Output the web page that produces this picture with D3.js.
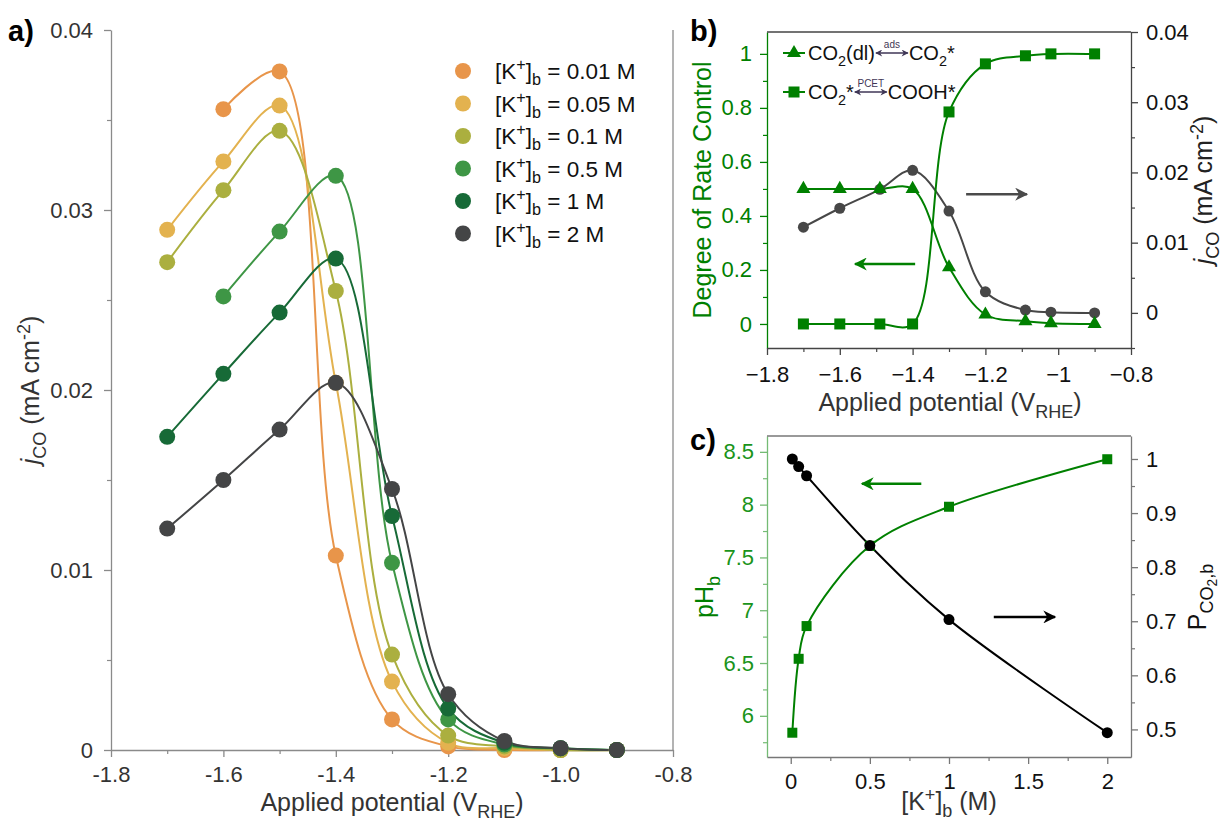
<!DOCTYPE html>
<html lang="en">
<head>
<meta charset="utf-8">
<style>
  body { margin: 0; background: #fff; }
  svg { display: block; font-family: "Liberation Sans", Arial, sans-serif; }
</style>
</head>
<body>
<svg id="chart" width="1223" height="823"></svg>
<script src="https://d3js.org/d3.v7.min.js"></script>
<script>
// ---------- data ----------
// panel a: j_CO vs potential for each bulk K+ concentration
var potentials = [-1.7, -1.6, -1.5, -1.4, -1.3, -1.2, -1.1, -1.0, -0.9];
var concLabels = ["0.01", "0.05", "0.1", "0.5", "1", "2"];
var j001 = [null, 0.0356, 0.0377, 0.0108, 0.0017, 0.0002, 0.0000, 0.0000, 0.0000];
var j005 = [0.0289, 0.0327, 0.0358, 0.0204, 0.0038, 0.0004, 0.0001, 0.0000, 0.0000];
var j01  = [0.0271, 0.0311, 0.0344, 0.0255, 0.0053, 0.0008, 0.0002, 0.0000, 0.0000];
var j05  = [null, 0.0252, 0.0288, 0.0319, 0.0104, 0.0017, 0.0003, 0.0001, 0.0000];
var j1   = [0.0174, 0.0209, 0.0243, 0.0273, 0.0130, 0.0023, 0.0004, 0.0001, 0.0000];
var j2   = [0.0123, 0.0150, 0.0178, 0.0204, 0.0145, 0.0031, 0.0005, 0.0001, 0.0000];
var aXTicks = [-1.8, -1.6, -1.4, -1.2, -1.0, -0.8];
var aXTickLabels = ["-1.8", "-1.6", "-1.4", "-1.2", "-1.0", "-0.8"];
var aYTicks = [0, 0.01, 0.02, 0.03, 0.04];
var aYTickLabels = ["0", "0.01", "0.02", "0.03", "0.04"];

// panel b: degree of rate control + j_CO at 2 M
var drcPot  = [-1.7, -1.6, -1.49, -1.4, -1.3, -1.2, -1.09, -1.02, -0.9];
var drcAds  = [0.50, 0.50, 0.50, 0.50, 0.21, 0.035, 0.010, 0.003, 0.0];
var drcPcet = [0.0, 0.0, 0.0, 0.0, 0.785, 0.963, 0.993, 1.0, 1.0];
var jcoB    = [0.0122, 0.0149, 0.0176, 0.0203, 0.0145, 0.0030, 0.0004, 0.0001, 0.0000];
var bXTicks = [-1.8, -1.6, -1.4, -1.2, -1.0, -0.8];
var bXTickLabels = ["\u22121.8", "\u22121.6", "\u22121.4", "\u22121.2", "\u22121", "\u22120.8"];
var bYLTicks = [0, 0.2, 0.4, 0.6, 0.8, 1];
var bYLTickLabels = ["0", "0.2", "0.4", "0.6", "0.8", "1"];
var bYRTicks = [0, 0.01, 0.02, 0.03, 0.04];
var bYRTickLabels = ["0", "0.01", "0.02", "0.03", "0.04"];

// panel c: bulk pH and CO2 partial pressure vs [K+]
var kConc = [0.01, 0.05, 0.1, 0.5, 1, 2];
var pHb   = [5.84, 6.54, 6.85, 7.61, 7.98, 8.43];
var pCO2  = [1.0, 0.986, 0.969, 0.840, 0.703, 0.494];
var cXTicks = [0, 0.5, 1, 1.5, 2];
var cXTickLabels = ["0", "0.5", "1", "1.5", "2"];
var cYLTicks = [6, 6.5, 7, 7.5, 8, 8.5];
var cYLTickLabels = ["6", "6.5", "7", "7.5", "8", "8.5"];
var cYRTicks = [0.5, 0.6, 0.7, 0.8, 0.9, 1];
var cYRTickLabels = ["0.5", "0.6", "0.7", "0.8", "0.9", "1"];

var aSeries = [j001, j005, j01, j05, j1, j2];
var aColors = ["#e8954a", "#e3b24f", "#abaf3f", "#3e9645", "#176a37", "#444546"];
var green = "#008000";
var darkGray = "#444";
var tickFs = 22, titleFs = 25;

var svg = d3.select("#chart");
svg.append("rect").attr("width", 1223).attr("height", 823).attr("fill", "#fff");

// ---------- helpers ----------
function rich(text, parts, fs) {
  var cur = 0;
  parts.forEach(function(p) {
    var t = Array.isArray(p) ? p[0] : p;
    var k = Array.isArray(p) ? p[1] : "";
    var off = ({sub: 0.28, sup: -0.38, subsub: 0.42})[k] || 0;
    var ts = text.append("tspan").text(t).attr("dy", (off - cur) * fs);
    if (k === "sub" || k === "sup") ts.attr("font-size", fs * 0.72);
    if (k === "subsub") ts.attr("font-size", fs * 0.55);
    if (k === "it") ts.attr("font-style", "italic");
    cur = off;
  });
  return text;
}

function axis(gen, tr, lineColor, textColor, fs) {
  var a = svg.append("g").attr("transform", tr).call(gen)
    .attr("font-family", null).attr("font-size", fs);
  a.select(".domain").attr("stroke", lineColor).attr("stroke-width", 1.3);
  a.selectAll(".tick line").attr("stroke", lineColor).attr("stroke-width", 1.3);
  a.selectAll(".tick text").attr("fill", textColor);
  return a;
}
function minor(gen, tr, lineColor) {
  var a = svg.append("g").attr("transform", tr).call(gen.tickFormat(""));
  a.select(".domain").remove();
  a.selectAll(".tick line").attr("stroke", lineColor).attr("stroke-width", 1.2);
}
function labelFmt(ticks, labels) {
  return function(d) { return labels[ticks.indexOf(d)]; };
}

var defs = svg.append("defs");
function arrowMarker(id, color, w, h) {
  defs.append("marker").attr("id", id)
    .attr("viewBox", "0 0 10 10").attr("refX", 9).attr("refY", 5)
    .attr("markerUnits", "userSpaceOnUse")
    .attr("markerWidth", w).attr("markerHeight", h)
    .attr("orient", "auto-start-reverse")
    .append("path").attr("d", "M0,0 L10,5 L0,10 L3,5 Z").attr("fill", color);
}
arrowMarker("arrGray", "#4a4a4a", 18, 13);
arrowMarker("arrGreen", green, 18, 13);
arrowMarker("arrBlack", "#000", 18, 13);
arrowMarker("arrSmall", "#3f3656", 9, 7);

var spline = d3.curveCatmullRom.alpha(0.5);

// ================= panel a =================
var ax = d3.scaleLinear().domain([-1.8, -0.8]).range([111, 673]);
var ay = d3.scaleLinear().domain([0, 0.04]).range([750, 30]);
var aAxisCol = "#8a8a8a", aTextCol = "#333";

minor(d3.axisLeft(ay).tickValues([0.005, 0.015, 0.025, 0.035]).tickSize(4), "translate(111,0)", aAxisCol);
minor(d3.axisBottom(ax).tickValues([-1.7, -1.5, -1.3, -1.1, -0.9]).tickSize(4), "translate(0,750)", aAxisCol);
axis(d3.axisLeft(ay).tickValues(aYTicks).tickFormat(labelFmt(aYTicks, aYTickLabels))
  .tickSize(7).tickSizeOuter(0).tickPadding(11), "translate(111,0)", aAxisCol, aTextCol, tickFs);
axis(d3.axisBottom(ax).tickValues(aXTicks).tickFormat(labelFmt(aXTicks, aXTickLabels))
  .tickSize(7).tickSizeOuter(0).tickPadding(9), "translate(0,750)", aAxisCol, aTextCol, tickFs);
svg.append("line").attr("x1", ax(-0.8)).attr("x2", ax(-0.8)).attr("y1", ay(0.04)).attr("y2", ay(0))
  .attr("stroke", aAxisCol).attr("stroke-width", 1.3);

var aPts = aSeries.map(function(s) {
  return potentials.map(function(p, i) { return {x: p, y: s[i]}; })
    .filter(function(d) { return d.y !== null; });
});
var aLine = d3.line().x(function(d) { return ax(d.x); }).y(function(d) { return ay(d.y); }).curve(spline);
aPts.forEach(function(pts, k) {
  svg.append("path").datum(pts).attr("d", aLine).attr("fill", "none")
    .attr("stroke", aColors[k]).attr("stroke-width", 2);
});
aPts.forEach(function(pts, k) {
  svg.append("g").selectAll("circle").data(pts).enter().append("circle")
    .attr("cx", function(d) { return ax(d.x); }).attr("cy", function(d) { return ay(d.y); })
    .attr("r", 8).attr("fill", aColors[k]);
});

// legend
concLabels.forEach(function(c, k) {
  var y = 71 + k * 32.5;
  svg.append("circle").attr("cx", 463).attr("cy", y).attr("r", 8).attr("fill", aColors[k]);
  rich(svg.append("text").attr("x", 495).attr("y", y + 8).attr("font-size", 22.5).attr("fill", "#111"),
    ["[K", ["+", "sup"], "]", ["b", "sub"], " = " + c + " M"], 22.5);
});

rich(svg.append("text").attr("x", 392).attr("y", 811).attr("text-anchor", "middle")
  .attr("font-size", titleFs).attr("fill", "#333"), ["Applied potential (V", ["RHE", "sub"], ")"], titleFs);
rich(svg.append("text").attr("transform", "translate(39,390) rotate(-90)").attr("text-anchor", "middle")
  .attr("font-size", titleFs).attr("fill", "#333"), [["j", "it"], ["CO", "sub"], " (mA cm", ["-2", "sup"], ")"], titleFs);
svg.append("text").attr("x", 8).attr("y", 41).attr("font-size", 29).attr("font-weight", "bold").text("a)");

// ================= panel b =================
var bx = d3.scaleLinear().domain([-1.8, -0.8]).range([767, 1131]);
var byL = d3.scaleLinear().domain([-0.089, 1.081]).range([348, 32]);
var byR = d3.scaleLinear().domain([-0.005, 0.04]).range([348, 32]);

minor(d3.axisLeft(byL).tickValues([0.1, 0.3, 0.5, 0.7, 0.9]).tickSize(4), "translate(767,0)", green);
minor(d3.axisRight(byR).tickValues([-0.005, 0.005, 0.015, 0.025, 0.035]).tickSize(4), "translate(1131,0)", darkGray);
minor(d3.axisBottom(bx).tickValues([-1.7, -1.5, -1.3, -1.1, -0.9]).tickSize(4), "translate(0,348)", darkGray);
axis(d3.axisLeft(byL).tickValues(bYLTicks).tickFormat(labelFmt(bYLTicks, bYLTickLabels))
  .tickSize(7).tickSizeOuter(0).tickPadding(8), "translate(767,0)", green, green, tickFs);
axis(d3.axisRight(byR).tickValues(bYRTicks).tickFormat(labelFmt(bYRTicks, bYRTickLabels))
  .tickSize(7).tickSizeOuter(0).tickPadding(8), "translate(1131,0)", darkGray, "#111", tickFs);
axis(d3.axisBottom(bx).tickValues(bXTicks).tickFormat(labelFmt(bXTicks, bXTickLabels))
  .tickSize(7).tickSizeOuter(0).tickPadding(11), "translate(0,348)", darkGray, "#111", tickFs);
svg.append("line").attr("x1", 767).attr("x2", 1131).attr("y1", 32).attr("y2", 32)
  .attr("stroke", darkGray).attr("stroke-width", 1.3);

var bAds = drcPot.map(function(p, i) { return {x: p, y: drcAds[i]}; });
var bPcet = drcPot.map(function(p, i) { return {x: p, y: drcPcet[i]}; });
var bJ = drcPot.map(function(p, i) { return {x: p, y: jcoB[i]}; });
var bLineL = d3.line().x(function(d) { return bx(d.x); }).y(function(d) { return byL(d.y); }).curve(spline);
var bLineR = d3.line().x(function(d) { return bx(d.x); }).y(function(d) { return byR(d.y); }).curve(spline);

svg.append("path").datum(bJ).attr("d", bLineR).attr("fill", "none").attr("stroke", "#474747").attr("stroke-width", 2);
svg.append("path").datum(bAds).attr("d", bLineL).attr("fill", "none").attr("stroke", green).attr("stroke-width", 2);
svg.append("path").datum(bPcet).attr("d", bLineL).attr("fill", "none").attr("stroke", green).attr("stroke-width", 2);

svg.append("g").selectAll("circle").data(bJ).enter().append("circle")
  .attr("cx", function(d) { return bx(d.x); }).attr("cy", function(d) { return byR(d.y); })
  .attr("r", 5.5).attr("fill", "#474747");
var tri = d3.symbol().type(d3.symbolTriangle).size(85);
svg.append("g").selectAll("path").data(bAds).enter().append("path")
  .attr("d", tri).attr("fill", green)
  .attr("transform", function(d) { return "translate(" + bx(d.x) + "," + byL(d.y) + ")"; });
svg.append("g").selectAll("rect").data(bPcet).enter().append("rect")
  .attr("x", function(d) { return bx(d.x) - 5.5; }).attr("y", function(d) { return byL(d.y) - 5.5; })
  .attr("width", 11).attr("height", 11).attr("fill", green);

// direction arrows
svg.append("line").attr("x1", bx(-1.253)).attr("x2", bx(-1.086)).attr("y1", byR(0.0169)).attr("y2", byR(0.0169))
  .attr("stroke", "#4a4a4a").attr("stroke-width", 2.5).attr("marker-end", "url(#arrGray)");
svg.append("line").attr("x1", bx(-1.393)).attr("x2", bx(-1.558)).attr("y1", byL(0.222)).attr("y2", byL(0.222))
  .attr("stroke", green).attr("stroke-width", 2.5).attr("marker-end", "url(#arrGreen)");

// legend b
function bLegendRow(y, sym, left, above, right) {
  svg.append("line").attr("x1", 783).attr("x2", 805).attr("y1", y).attr("y2", y)
    .attr("stroke", green).attr("stroke-width", 2);
  if (sym === "tri") {
    svg.append("path").attr("d", tri).attr("fill", green).attr("transform", "translate(794," + y + ")");
  } else {
    svg.append("rect").attr("x", 788.5).attr("y", y - 5.5).attr("width", 11).attr("height", 11).attr("fill", green);
  }
  var t1 = rich(svg.append("text").attr("x", 808).attr("y", y + 7).attr("font-size", 20).attr("fill", "#111"), left, 20);
  var w = t1.node().getComputedTextLength();
  var a0 = 808 + w + 1, a1 = a0 + 32;
  svg.append("line").attr("x1", a0).attr("x2", a1).attr("y1", y).attr("y2", y)
    .attr("stroke", "#3f3656").attr("stroke-width", 1.3)
    .attr("marker-start", "url(#arrSmall)").attr("marker-end", "url(#arrSmall)");
  svg.append("text").attr("x", (a0 + a1) / 2).attr("y", y - 5).attr("text-anchor", "middle")
    .attr("font-size", 10).attr("fill", "#3f3656").text(above);
  rich(svg.append("text").attr("x", a1 + 1).attr("y", y + 7).attr("font-size", 20).attr("fill", "#111"), right, 20);
}
bLegendRow(53, "tri", ["CO", ["2", "sub"], "(dl)"], "ads", ["CO", ["2", "sub"], "*"]);
bLegendRow(92, "sq", ["CO", ["2", "sub"], "*"], "PCET", ["COOH*"]);

rich(svg.append("text").attr("x", 950).attr("y", 411).attr("text-anchor", "middle")
  .attr("font-size", titleFs).attr("fill", "#333"), ["Applied potential (V", ["RHE", "sub"], ")"], titleFs);
svg.append("text").attr("transform", "translate(711,190) rotate(-90)").attr("text-anchor", "middle")
  .attr("font-size", titleFs).attr("fill", green).text("Degree of Rate Control");
rich(svg.append("text").attr("transform", "translate(1212,190) rotate(-90)").attr("text-anchor", "middle")
  .attr("font-size", titleFs).attr("fill", "#222"), [["j", "it"], ["CO", "sub"], " (mA cm", ["-2", "sup"], ")"], titleFs);
svg.append("text").attr("x", 690).attr("y", 41).attr("font-size", 29).attr("font-weight", "bold").text("b)");

// ================= panel c =================
var cx = d3.scaleLinear().domain([-0.15, 2.15]).range([767, 1131]);
var cyL = d3.scaleLinear().domain([5.61, 8.65]).range([757, 436]);
var cyR = d3.scaleLinear().domain([0.449, 1.0425]).range([757, 436]);
var cGreenAxis = "#74bb74", cGreenText = "#1a941a", cGray = "#777";

minor(d3.axisLeft(cyL).tickValues([5.75, 6.25, 6.75, 7.25, 7.75, 8.25]).tickSize(4), "translate(767,0)", cGreenAxis);
minor(d3.axisRight(cyR).tickValues([0.55, 0.65, 0.75, 0.85, 0.95]).tickSize(4), "translate(1131,0)", cGray);
minor(d3.axisBottom(cx).tickValues([0.25, 0.75, 1.25, 1.75]).tickSize(4), "translate(0,757)", cGray);
axis(d3.axisLeft(cyL).tickValues(cYLTicks).tickFormat(labelFmt(cYLTicks, cYLTickLabels))
  .tickSize(7).tickSizeOuter(0).tickPadding(6), "translate(767,0)", cGreenAxis, cGreenText, tickFs);
axis(d3.axisRight(cyR).tickValues(cYRTicks).tickFormat(labelFmt(cYRTicks, cYRTickLabels))
  .tickSize(7).tickSizeOuter(0).tickPadding(8), "translate(1131,0)", cGray, "#111", tickFs);
axis(d3.axisBottom(cx).tickValues(cXTicks).tickFormat(labelFmt(cXTicks, cXTickLabels))
  .tickSize(7).tickSizeOuter(0).tickPadding(9), "translate(0,757)", cGray, "#111", tickFs);
svg.append("line").attr("x1", 767).attr("x2", 1131).attr("y1", 436).attr("y2", 436)
  .attr("stroke", cGray).attr("stroke-width", 1.3);

var cPH = kConc.map(function(k, i) { return {x: k, y: pHb[i]}; });
var cP = kConc.map(function(k, i) { return {x: k, y: pCO2[i]}; });
svg.append("path").datum(cPH).attr("fill", "none").attr("stroke", green).attr("stroke-width", 2)
  .attr("d", d3.line().x(function(d) { return cx(d.x); }).y(function(d) { return cyL(d.y); }).curve(spline));
svg.append("path").datum(cP).attr("fill", "none").attr("stroke", "#000").attr("stroke-width", 2)
  .attr("d", d3.line().x(function(d) { return cx(d.x); }).y(function(d) { return cyR(d.y); }).curve(spline));
svg.append("g").selectAll("rect").data(cPH).enter().append("rect")
  .attr("x", function(d) { return cx(d.x) - 5; }).attr("y", function(d) { return cyL(d.y) - 5; })
  .attr("width", 10).attr("height", 10).attr("fill", green);
svg.append("g").selectAll("circle").data(cP).enter().append("circle")
  .attr("cx", function(d) { return cx(d.x); }).attr("cy", function(d) { return cyR(d.y); })
  .attr("r", 5.5).attr("fill", "#000");

svg.append("line").attr("x1", cx(0.825)).attr("x2", cx(0.45)).attr("y1", cyL(8.197)).attr("y2", cyL(8.197))
  .attr("stroke", green).attr("stroke-width", 2.5).attr("marker-end", "url(#arrGreen)");
svg.append("line").attr("x1", cx(1.283)).attr("x2", cx(1.67)).attr("y1", cyR(0.708)).attr("y2", cyR(0.708))
  .attr("stroke", "#000").attr("stroke-width", 2.5).attr("marker-end", "url(#arrBlack)");

rich(svg.append("text").attr("x", 949).attr("y", 810).attr("text-anchor", "middle")
  .attr("font-size", titleFs).attr("fill", "#333"), ["[K", ["+", "sup"], "]", ["b", "sub"], " (M)"], titleFs);
rich(svg.append("text").attr("transform", "translate(713,597) rotate(-90)").attr("text-anchor", "middle")
  .attr("font-size", titleFs).attr("fill", green), ["pH", ["b", "sub"]], titleFs);
rich(svg.append("text").attr("transform", "translate(1206,597) rotate(-90)").attr("text-anchor", "middle")
  .attr("font-size", titleFs).attr("fill", "#111"), ["P", ["CO", "sub"], ["2", "subsub"], [",b", "sub"]], titleFs);
svg.append("text").attr("x", 690).attr("y", 450).attr("font-size", 29).attr("font-weight", "bold").text("c)");
</script>
</body>
</html>
